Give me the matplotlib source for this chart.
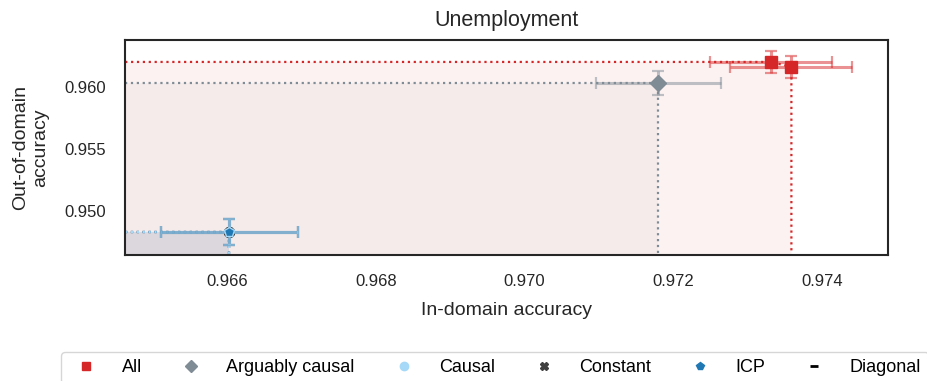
import matplotlib.pyplot as plt
from matplotlib.lines import Line2D

plt.rcParams['font.family'] = ['Liberation Sans', 'DejaVu Sans']

# Data
methods = ['All', 'All', 'Arguably causal', 'Constant', 'ICP', 'Causal']
in_domain = [0.97332, 0.97359, 0.97180, 0.96603, 0.96603, 0.96603]
out_domain = [0.96202, 0.96161, 0.96032, 0.94831, 0.94831, 0.94831]
in_err = [0.00082, 0.00082, 0.00084, 0.00092, 0.00092, 0.00092]
out_err = [0.00089, 0.00090, 0.00097, 0.00105, 0.00105, 0.00105]

legend_names = ['All', 'Arguably causal', 'Causal', 'Constant', 'ICP', 'Diagonal']
colors = {'All': '#d62728', 'Arguably causal': '#7f8c95', 'Causal': '#a6d8f7',
          'Constant': '#404040', 'ICP': '#1f78b4', 'Diagonal': 'black'}
markers = {'All': 's', 'Arguably causal': 'D', 'Causal': 'o', 'Constant': 'X',
           'ICP': 'p', 'Diagonal': '_'}

xlim = (0.96463, 0.97489)
ylim = (0.94645, 0.96379)

fig = plt.figure(figsize=(9.27, 3.81), dpi=100)
ax = fig.add_axes([0.135, 0.331, 0.823, 0.564])

# Frontier lines and shaded regions for each method
for name in ['Constant', 'ICP', 'Causal', 'Arguably causal', 'All']:
    pts = sorted([(x, y) for m, x, y in zip(methods, in_domain, out_domain) if m == name])
    fx = [xlim[0]] + [p[0] for p in pts] + [pts[-1][0]]
    fy = [pts[0][1]] + [p[1] for p in pts] + [ylim[0]]
    ax.plot(fx, fy, ls=':', lw=1.6, color=colors[name], zorder=2)
    ax.fill(fx + [xlim[0]], fy + [ylim[0]], color=colors[name], alpha=0.06, lw=0, zorder=1)

# Points with error bars
for m, x, y, xe, ye in zip(methods, in_domain, out_domain, in_err, out_err):
    ax.errorbar(x, y, xerr=xe, yerr=ye, fmt='none', ecolor=colors[m], alpha=0.5,
                elinewidth=2.2, capsize=4, capthick=1.6, zorder=3)
for m, x, y in zip(methods, in_domain, out_domain):
    if m == 'Causal':
        continue
    ms = 8 if m in ('All', 'Arguably causal') else 7
    ax.plot(x, y, marker=markers[m], color=colors[m], ms=ms, ls='none', zorder=4,
            mec=colors['Causal'] if m == 'ICP' else colors[m], mew=1)

ax.set_xlim(xlim)
ax.set_ylim(ylim)
ax.set_xticks([0.966, 0.968, 0.970, 0.972, 0.974])
ax.set_yticks([0.950, 0.955, 0.960])
ax.tick_params(labelsize=12, length=0, pad=14, labelcolor='#262626')
for s in ax.spines.values():
    s.set_color('#262626')
    s.set_linewidth(1.5)

ax.set_title('Unemployment', fontsize=15.5, pad=10, color='#262626')
ax.set_xlabel('In-domain accuracy', fontsize=14, labelpad=9, color='#262626')
ax.set_ylabel('Out-of-domain\naccuracy', fontsize=14, labelpad=11, color='#262626')

handles = [Line2D([], [], marker=markers[n], color=colors[n], ls='none', ms=6,
                  mew=2 if n == 'Diagonal' else 1)
           for n in legend_names]
fig.legend(handles, legend_names, loc='upper left', bbox_to_anchor=(0.066, 0.0761),
           ncol=6, fontsize=13, frameon=True, columnspacing=1.72, handletextpad=0.95,
           borderaxespad=0, fancybox=True, edgecolor='#cccccc')

fig.savefig('out.png', dpi=100)
